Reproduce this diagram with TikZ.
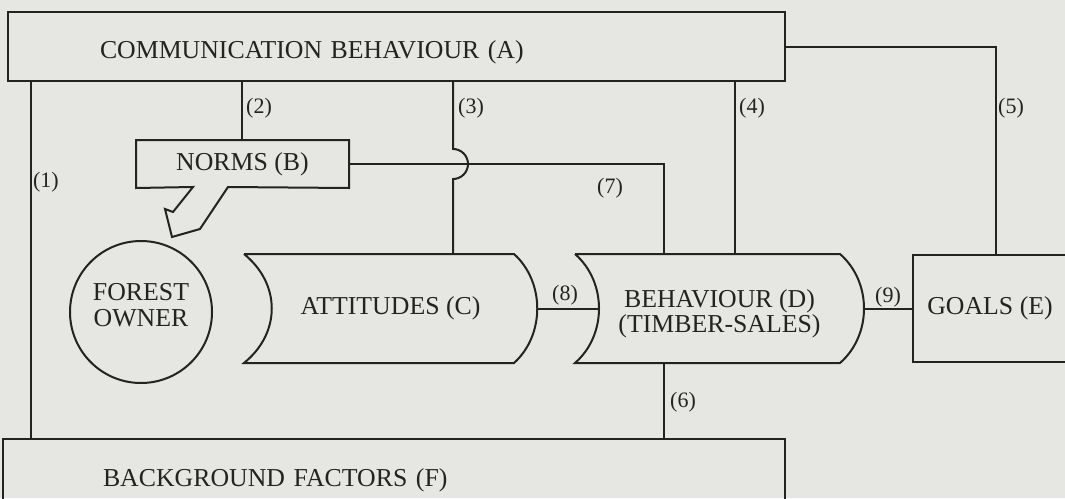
\documentclass[tikz,border=0pt]{standalone}
\usepackage{fontspec}
\setmainfont{Liberation Serif}

\definecolor{paper}{RGB}{230,230,227}
\definecolor{ink}{RGB}{35,35,35}

\tikzset{
  box/.style={draw=ink, line width=1pt, inner sep=0pt, text=ink, font=\fontsize{12.9}{13}\selectfont},
  pipe/.style={draw=ink, line width=1pt},
  num/.style={text=ink, inner sep=0pt, font=\fontsize{11}{13}\selectfont}
}

\begin{document}
\begin{tikzpicture}[x=0.5pt, y=-0.5pt]
  \useasboundingbox (0,0) rectangle (1065,498);
  \clip (0,0) rectangle (1065,498);
  \fill[paper] (0,0) rectangle (1065,498);

  % boxes
  \node[box, text width=296.5pt, inner xsep=46pt, minimum height=34.5pt, align=left,
        text height=14.7pt, text depth=3pt] (A) at (396.5,46.5) {COMMUNICATION BEHAVIOUR (A)};
  \node[box, draw=none, minimum width=105.5pt, minimum height=23pt] (B) at (242.5,164) {NORMS (B)};
  \draw[pipe] (B.north west) -- (B.north east) -- (B.south east) -- (228,187) -- (200,229)
    -- (172,237) -- (165,209) -- (173,212) -- (193,187) -- (B.south west) -- cycle;
  \node[box, circle, minimum size=71pt, align=center, text depth=7pt] (O) at (141,312) {FOREST\\OWNER};
  \node[box, draw=none, minimum width=145.5pt, minimum height=53.5pt] (C) at (390.5,308.5) {ATTITUDES (C)};
  \draw[pipe] (C.north west) -- ([xshift=-11.5pt]C.north east)
    .. controls +(31,28) and +(31,-28) .. ([xshift=-11.5pt]C.south east) -- (C.south west)
    .. controls +(37,-30) and +(37,30) .. (C.north west);
  \node[box, draw=none, minimum width=143.5pt, minimum height=53.5pt, align=center,
        text height=26.5pt, text depth=3pt] (D) at (719.5,308.5) {BEHAVIOUR (D)\\[-0.8pt](TIMBER-SALES)};
  \draw[pipe] (D.north west) -- ([xshift=-12pt]D.north east)
    .. controls +(32,28) and +(32,-28) .. ([xshift=-12pt]D.south east) -- (D.south west)
    .. controls +(32,-28) and +(32,28) .. (D.north west);
  \node[box, minimum width=77pt, minimum height=53.5pt] (E) at (990,308.5) {GOALS (E)};
  \node[box, text width=291pt, inner xsep=50pt, minimum height=41pt, align=left] (F) at (394,480) {BACKGROUND FACTORS (F)};

  % connectors
  \draw[pipe] (A.south -| 31,0) -- (F.north -| 31,0);
  \draw[pipe] (A.south -| 242,0) -- (B.north -| 242,0);
  \draw[pipe] (A.south -| 453,0) -- (453,149) arc[start angle=-90, end angle=90, radius=15] -- (C.north -| 453,0);
  \draw[pipe] (A.south -| 735,0) -- (D.north -| 735,0);
  \draw[pipe] (A.east) -| (E.north -| 996,0);
  \draw[pipe] (D.south -| 664,0) -- (F.north -| 664,0);
  \draw[pipe] (B.east) -| (D.north -| 664,0);
  \draw[pipe] (C.east) -- ([xshift=12pt]D.west);
  \draw[pipe] (D.east) -- (E.west);

  % labels
  \foreach \n/\x/\y in {1/46/182, 2/259/108, 3/471/108, 4/752/108, 5/1011/108,
                        6/683/402, 7/610/188, 8/565/295, 9/888/297}
    \node[num] (n\n) at (\x,\y) {(\n)};
\end{tikzpicture}
\end{document}
